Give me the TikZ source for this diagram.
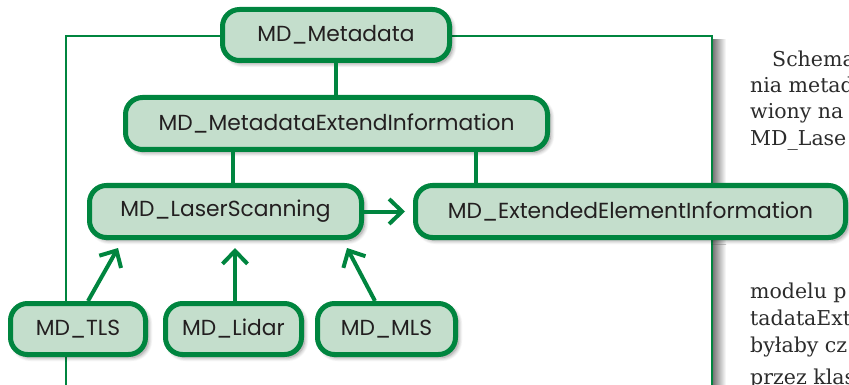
\documentclass[tikz,border=0pt]{standalone}
\usepackage{fontspec}
\newfontfamily\boxfont{Poppins}
\newfontfamily\bodyfont{DejaVu Serif}
\usetikzlibrary{arrows.meta,shadows.blur}
\definecolor{umlgreen}{HTML}{00853F}
\definecolor{umlfill}{HTML}{C4DECC}
\definecolor{umltext}{HTML}{231F20}
\definecolor{bodytext}{HTML}{2B2B2B}
\tikzset{
  cls/.style={draw=umlgreen, line width=5pt, fill=umlfill, rounded corners=17pt,
    text=umltext, font=\boxfont\fontsize{21.8}{26}\selectfont,
    minimum height=51pt, inner sep=0pt,
    blur shadow={shadow xshift=3pt, shadow yshift=-3pt, shadow blur radius=4pt,
      shadow blur steps=8, shadow opacity=45}},
  link/.style={draw=umlgreen, line width=4pt},
  gen/.style={link, -{Straight Barb[length=13pt,width=25pt]}},
  body/.style={anchor=base west, inner sep=0pt, text=bodytext,
    font=\bodyfont\fontsize{20.5}{26}\selectfont},
}
\begin{document}
\begin{tikzpicture}[x=1pt, y=-1pt]
\useasboundingbox (0,0) rectangle (849,385);
\begin{scope}
\clip (0,0) rectangle (849,385);
% page text beside the figure
\node[body] (t1) at (772,67) {Schema};
\node[body] (t2) at (750,93) {nia metad};
\node[body] (t3) at (750,119) {wiony na};
\node[body] (t4) at (750,146) {MD\_Lase};
\node[body] (t5) at (750,298) {modelu p};
\node[body] (t6) at (750,325) {tadataExt};
\node[body] (t7) at (750,352) {byłaby cz};
\node[body] (t8) at (750,384) {przez klas};
% figure frame with its shadow on the right
\shade[left color=black!55, right color=white] (712.5,40) rectangle (726,395);
\draw[umlgreen, line width=1.2pt] (66,36) rectangle (712,400);
% classes
\node[cls, minimum width=227pt] (meta) at (336,35) {MD\_Metadata};
\node[cls, minimum width=422pt, minimum height=52pt] (mei) at (336.5,123.5) {MD\_MetadataExtendInformation};
\node[cls, minimum width=272pt, minimum height=52pt] (ls) at (225.5,211.5) {MD\_LaserScanning};
\node[cls, minimum width=430pt, minimum height=52pt] (eei) at (630.5,211.5) {MD\_ExtendedElementInformation};
\node[cls, minimum width=135pt] (tls) at (78,329) {MD\_TLS};
\node[cls, minimum width=136pt] (lidar) at (233.5,329) {MD\_Lidar};
\node[cls, minimum width=138pt] (mls) at (386.5,329) {MD\_MLS};
% connectors
\draw[link] (meta.south) -- (meta.south |- mei.north);
\draw[link] ([xshift=7.5pt]ls.north) -- ([xshift=7.5pt]ls.north |- mei.south);
\draw[link] ([xshift=-154.5pt]eei.north) -- ([xshift=-154.5pt]eei.north |- mei.south);
\draw[gen, shorten >=8pt] (ls.east) -- (eei.west);
\draw[gen] ([xshift=10pt]tls.north) -- ([xshift=-107.5pt, yshift=-8pt]ls.south);
\draw[gen] ([xshift=1.5pt]lidar.north) -- ([xshift=9.5pt, yshift=-8pt]ls.south);
\draw[gen] ([xshift=-11.5pt]mls.north) -- ([xshift=121.5pt, yshift=-8pt]ls.south);
\end{scope}
\end{tikzpicture}
\end{document}
